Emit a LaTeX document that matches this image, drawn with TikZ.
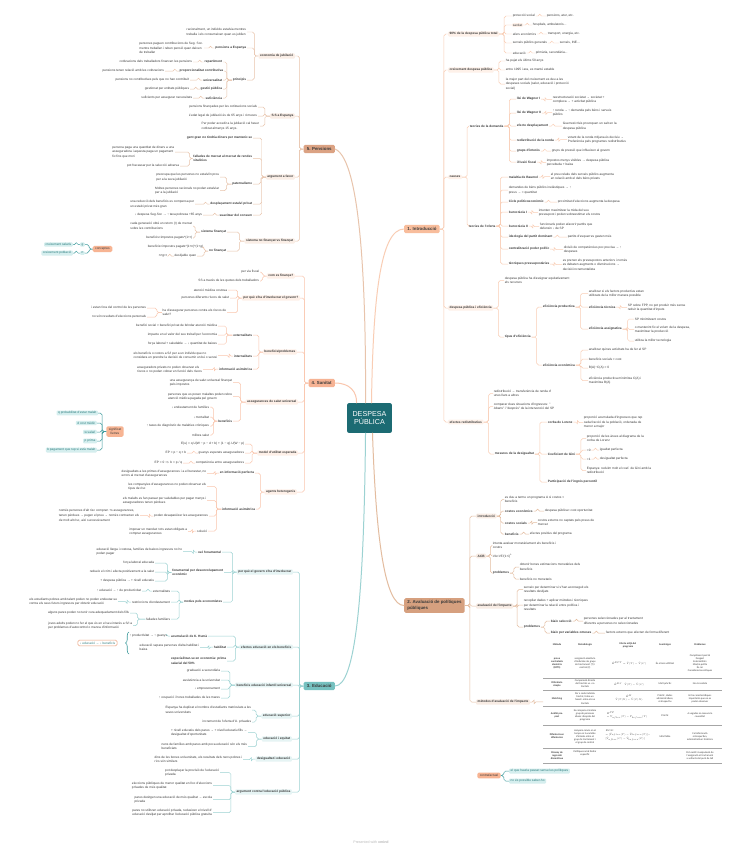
\documentclass[tikz,border=0pt]{standalone}
\usepackage{graphicx}
\usepackage{fontspec}
\setmainfont{Liberation Sans}
\newfontfamily\tabfont{Carlito}
\usetikzlibrary{decorations.pathreplacing}
\definecolor{txt}{HTML}{3A3A3A}
\definecolor{cen}{HTML}{1C6B73}
\definecolor{pl}{HTML}{E8C4AC}\definecolor{pf}{HTML}{DBA283}\definecolor{ph}{HTML}{FAEEE6}
\definecolor{sl}{HTML}{FAC6AD}\definecolor{sf}{HTML}{F6B394}\definecolor{sh}{HTML}{FEF0E8}
\definecolor{el}{HTML}{9CD2D2}\definecolor{ef}{HTML}{76C1C0}\definecolor{eh}{HTML}{E6F4F4}
\definecolor{il}{HTML}{F9CDB4}\definecolor{iff}{HTML}{F8BD9C}\definecolor{ih}{HTML}{FEF1E9}
\definecolor{al}{HTML}{E3BC9F}\definecolor{af}{HTML}{D6A07F}\definecolor{ah}{HTML}{F8ECE4}
\definecolor{tdk}{HTML}{3C9A9C}\definecolor{tfill}{HTML}{D5EEEE}\definecolor{ttxt}{HTML}{2E7D7F}
\definecolor{ofill}{HTML}{F7B493}\definecolor{oline}{HTML}{EBA07C}
\newcommand\mmfs{\fontsize{3.2}{4.6}\selectfont}
\newcommand\mmfb{\fontsize{3.2}{4.6}\selectfont\bfseries}
\newcommand\mmfm{\fontsize{4.4}{5.4}\selectfont\bfseries}
\newcommand\mmft{\tabfont\fontsize{2.6}{3.1}\selectfont}
\newcommand\fml[1]{\scalebox{0.48}{$#1$}}
\newcommand\lkL[3]{\foreach \pa/\ch in {#3}{\draw[ln=#1] (\pa.west) -- ++(-#2,0) |- (\ch.east);}}
\newcommand\lkR[3]{\foreach \pa/\ch in {#3}{\draw[ln=#1] (\pa.east) -- ++(#2,0) |- (\ch.west);}}
\tikzset{
 every node/.style={inner sep=0.7, text=txt, font=\mmfs, align=left},
 bd/.style={font=\mmfb},
 hl/.style={font=\mmfb, fill=#1, rounded corners=1, inner xsep=1.5, inner ysep=1.2},
 mbox/.style={font=\mmfm, fill=#1, rounded corners=1.5, inner xsep=3.2, inner ysep=2.6},
 oL/.style={anchor=east},
 oR/.style={anchor=west},
 obox/.style={fill=ofill, rounded corners=1.5, inner xsep=2.5, inner ysep=1.8},
 tbox/.style={fill=tfill, rounded corners=1, inner xsep=1.5, inner ysep=1, text=ttxt},
 ln/.style={draw=#1, line width=0.5, rounded corners=1.8},
 trunk/.style={draw=#1, line width=1, line cap=round},
 tc/.style={font=\mmft, align=center, inner sep=0},
 tcb/.style={font=\mmft\bfseries, align=center, inner sep=0},
}
\begin{document}
\begin{tikzpicture}[x=1bp,y=-1bp]
\useasboundingbox (0,0) rectangle (742,848);
\fill[white] (0,0) rectangle (742,848);

% ---------- centre ----------
\node[fill=cen, rounded corners=2, text=white, font=\fontsize{7.2}{8.6}\selectfont, align=center, minimum width=45, minimum height=30, inner sep=1] (C) at (369.5,418) {DESPESA\\PÚBLICA};

% ---------- main boxes ----------
\node[mbox=pf, oL] (P) at (335,149) {5. Pensions};
\node[mbox=sf, oL] (S) at (335,383) {4. Sanitat};
\node[mbox=ef, oL] (E) at (335,686) {3. Educació};
\node[mbox=iff, oR] (I) at (404,229) {1. Introducció};
\node[mbox=af, oR] (A) at (404,605.5) {2. Avaluació de polítiques\\públiques};

\draw[trunk=il] ([xshift=2]C.north) .. controls (373,300) and (380,229) .. (I.west);
\draw[trunk=pl] ([xshift=-4]C.north) .. controls (366,300) and (362,160) .. (P.east);
\draw[trunk=sl] ([xshift=-13]C.north) .. controls (357,392) and (350,383) .. (S.east);
\draw[trunk=el] ([xshift=-4]C.south) .. controls (364,600) and (355,686) .. (E.east);
\draw[trunk=al] ([xshift=3]C.south) .. controls (376,540) and (385,605.5) .. (A.west);

% ---------- 5. Pensions ----------
\node[hl=ph,oL] (P1) at (295,56) {economia de jubilació};
\node[oL] (P11) at (247,32) {racionalment, un individu estalvia mentres\\treballa i els consumeixen quan es jubilen};
\node[bd,oL] (P12) at (247,48) {pensions a Espanya};
\node[oL] (P121) at (204,48) {persones paguen contribucions de Seg. Soc.\\mentre treballen i reben pensió quan deixen\\de treballar};
\node[bd,oL] (P13) at (247,80) {principis};
\node[bd,oL] (P131) at (223,62) {repartiment};
\node[oL] (P1311) at (193,62) {cotitzacions dels treballadors financen les pensions};
\node[bd,oL] (P132) at (224,71) {proporcionalitat contributiva};
\node[oL] (P1321) at (165,71) {pensions tenen relació amb les cotitzacions};
\node[bd,oL] (P133) at (223,80) {universalitat};
\node[oL] (P1331) at (190,80) {pensions no contributives pels que no han contribuït};
\node[bd,oL] (P134) at (223,89) {gestió pública};
\node[oL] (P1341) at (190,89) {gestionat per entitats públiques};
\node[bd,oL] (P135) at (223,98) {suficiència};
\node[oL] (P1351) at (193,98) {suficients per assegurar necessitats};
\node[hl=ph,oL] (P2) at (295,116) {S.S a Espanya};
\node[oL] (P21) at (258,107) {pensions finançades per les cotitzacions socials};
\node[oL] (P22) at (258,116) {L'edat legal de jubilació és de 65 anys i 4 mesos};
\node[oL] (P23) at (260,126) {Per poder accedir a la jubilació cal haver\\cotitzat almenys 15 anys.};
\node[hl=ph,oL] (P3) at (295,177) {argument a favor};
\node[bd,oL] (P31) at (253,138) {gent gran no tindria diners per mantenir-se};
\node[bd,oL] (P32) at (253,158.5) {fallades de mercat al mercat de rendes\\vitalícies};
\node[oL] (P321) at (175,152) {persona paga una quantitat de diners a una\\asseguradora i aquesta paga un pagament\\fix fins que mori};
\node[oL] (P322) at (180,166) {pot fracassar per la selecció adversa};
\node[bd,oL] (P33) at (253,184) {paternalisme};
\node[oL] (P331) at (220,177) {preocupa que les persones no estalviïn prou\\per a la seva jubilació};
\node[oL] (P332) at (220,190.5) {Moltes persones racionals no poden estalviar\\per a la jubilació};
\node[bd,oL] (P34) at (253,204) {desplaçament estalvi privat};
\node[oL] (P341) at (195,204) {una reducció dels beneficis es compensa per\\un estalvi privat més gran};
\node[bd,oL] (P35) at (253,215) {suavitzar del consum};
\node[oL] (P351) at (203,215) {↓ despesa Seg.Soc → ↑ taxa pobresa +65 anys};
\node[hl=ph,oL] (P4) at (295,241) {sistema no finançat vs finançat};
\node[bd,oL] (P41) at (227,232) {sistema finançat};
\node[oL] (P411) at (193,226) {cada generació obté un retorn (r) de mercat\\sobre les contribucions};
\node[oL] (P412) at (193,238) {beneficis=impostos pagats*(1+r)};
\node[bd,oL] (P42) at (227,251) {no finançat};
\node[oL] (P421) at (204,247) {beneficis=impostos pagats*(1+n)*(1+g)};
\node[oL] (P422) at (197,256) {desitjable quan};
\node[oL] (P4221) at (168,256) {n+g>r};

\lkL{pl}{4}{P/P1,P/P2,P/P3,P/P4,P1/P11,P1/P12,P1/P13,P12/P121,P131/P1311,P132/P1321,P133/P1331,P134/P1341,P135/P1351,P3/P31,P3/P35,P3/P32,P3/P34,P42/P421,P42/P422,P422/P4221,P34/P341,P35/P351}
\lkL{pl}{5}{P13/P131,P13/P132,P13/P133,P13/P134,P13/P135,P2/P21,P2/P22,P2/P23,P3/P33,P33/P331,P33/P332,P4/P41,P4/P42,P41/P411,P41/P412}
\lkL{pl}{3}{P32/P321,P32/P322}

% ---------- conceptes ----------
\node[obox] (K) at (102.5,249) {conceptes};
\node[tbox,oL] (Kg) at (85,244.5) {g};
\node[tbox,oL] (Kn) at (85,253) {n};
\node[tbox,oL] (Kg1) at (73,244.5) {creixement salaris};
\node[tbox,oL] (Kn1) at (73,253) {creixement població};
\lkL{tdk}{3.5}{K/Kg,K/Kn,Kg/Kg1,Kn/Kn1}

% ---------- 4. Sanitat ----------
\node[hl=sh,oL] (S1) at (295,276) {com es finança?};
\node[oL] (S11) at (260,272) {per via fiscal};
\node[oL] (S12) at (260,281) {SS a través de les quotes dels treballadors};
\node[hl=sh,oL] (S2) at (300,298) {per què s'ha d'involucrar el govern?};
\node[oL] (S21) at (228,290) {atenció mèdica costosa};
\node[oL] (S22) at (230,298) {persones diferents riscos de salut};
\node[oL] (S23) at (227,312.5) {ha d'assegurar persones contra els riscos de\\salut?};
\node[oL] (S231) at (147,308) {i estan fora del control de les persones};
\node[oL] (S232) at (147,317) {no són resultats d'eleccions personals};
\node[hl=sh,oL] (S3) at (297,352) {beneficis/problemes};
\node[bd,oL] (S31) at (253,335) {externalitats};
\node[oL] (S311) at (218,326) {benefici social > benefici privat de brindar atenció mèdica};
\node[oL] (S312) at (218,335) {impacte en el valor del seu treball per l'economia};
\node[oL] (S313) at (218,344) {força laboral + saludable → ↓ quantitat de baixes};
\node[bd,oL] (S32) at (253,356) {internalitats};
\node[oL] (S321) at (218,355.5) {els beneficis o costos a S/I per a un individu que no\\considera en prendre la decisió de consumir un bé o servei};
\node[bd,oL] (S33) at (253,369) {informació asimètrica};
\node[oL] (S331) at (203,369.5) {asseguradors privats no poden observar els\\riscos o no poden cobrar en funció dels riscos};
\node[hl=sh,oL] (S4) at (298,402) {assegurances de salut universal};
\node[oL] (S41) at (233,382.5) {una assegurança de salut universal finançat\\pels impostos};
\node[oL] (S42) at (233,396.5) {persones que es posen malaltes poden rebre\\atenció mèdica pagada pel govern};
\node[bd,oL] (S43) at (233,421) {beneficis};
\node[oL] (S431) at (210,407) {↓ endeutament de famílies};
\node[oL] (S432) at (210,417) {↓ mortalitat};
\node[oL] (S433) at (210,426) {↑ taxes de diagnòstic de malalties cròniques};
\node[oL] (S434) at (210,435) {millora salut};
\node[hl=sh,oL] (S5) at (298,453) {model d'utilitat esperada};
\node[oL] (S51) at (245,444) {E(u) = q·U(W − p − d + b) + (1 − q)·U(W − p)};
\node[oL] (S52) at (245,453) {guanys esperats asseguradores};
\node[oL] (S521) at (187,453) {EP = p − q × b};
\node[oL] (S53) at (245,463) {competència entre asseguradores};
\node[oL] (S531) at (183,463) {EP = 0 \scalebox{0.65}{$\Rightarrow$} b = p / q};
\node[hl=sh,oL] (S6) at (297,492) {agents heterogenis};
\node[bd,oL] (S61) at (255,473) {en informació perfecta};
\node[oL] (S611) at (207,473.5) {desigualtats a les primes d'assegurances i a el benestar, no\\errors al mercat d'assegurances};
\node[bd,oL] (S62) at (256,509) {informació asimètrica};
\node[oL] (S621) at (207,486.5) {les companyies d'assegurances no poden observar els\\tipus de risc};
\node[oL] (S622) at (207,500.5) {els malalts es fan passar per saludables per pagar menys i\\asseguradores tenen pèrdues};
\node[oL] (S623) at (209,516) {poden desaparèixer les assegurances};
\node[oL] (S6231) at (140,515.5) {només persones d'alt risc compren +s assegurances,\\tenen pèrdues → pugen el preu → només contracten els\\de molt alt risc, així successivament};
\node[oL] (S624) at (208,531) {solució};
\node[oL] (S6241) at (188,531.5) {imposar un mandat: tots estan obligats a\\comprar assegurances};

\lkL{sl}{4}{S/S1,S/S2,S/S3,S/S4,S/S5,S/S6,S1/S11,S1/S12,S2/S21,S2/S22,S2/S23,S3/S31,S3/S32,S3/S33,S43/S431,S43/S432,S43/S433,S43/S434,S6/S61,S6/S62,S32/S321,S33/S331,S52/S521,S53/S531,S61/S611,S623/S6231,S624/S6241}
\lkL{sl}{5}{S23/S231,S23/S232,S4/S41,S4/S42,S4/S43,S5/S51,S5/S52,S5/S53,S62/S621,S62/S622,S62/S623,S62/S624}
\lkL{sl}{6}{S31/S311,S31/S312,S31/S313}

% ---------- significat lletres ----------
\node[obox, align=center] (SL) at (115,431.5) {significat\\lletres};
\node[tbox,oL] (SL1) at (98,413) {q probabilitat d'estar malalt};
\node[tbox,oL] (SL2) at (97,423) {d cost mèdic};
\node[tbox,oL] (SL3) at (97,432) {w salari};
\node[tbox,oL] (SL4) at (97,441) {p prima};
\node[tbox,oL] (SL5) at (97,450) {b pagament que rep si està malalt};
\lkL{tdk}{4}{SL/SL1,SL/SL2,SL/SL3,SL/SL4,SL/SL5}

% ---------- 3. Educació ----------
\node[hl=eh,oL] (E1) at (293,572) {per què el govern s'ha d'involucrar};
\node[bd,oL] (E11) at (222,552) {raó fonamental};
\node[oL] (E111) at (183,551.5) {educació llarga i costosa, famílies de baixos ingressos no ho\\poden pagar};
\node[bd,oL] (E12) at (224,572.5) {fonamental per desenvolupament\\econòmic};
\node[oL] (E121) at (155,563) {força laboral educada};
\node[oL] (E122) at (155,572) {redueix el crim i afecta positivament a la salut};
\node[oL] (E123) at (155,581) {+ despesa pública → + nivell educatiu};
\node[bd,oL] (E13) at (223,602) {motius pels economistes};
\node[oL] (E131) at (171,591) {externalitats};
\node[oL] (E1311) at (142,591) {↑ educació → ↑ de productivitat};
\node[oL] (E132) at (171,602) {restriccions d'endeutament};
\node[oL] (E1321) at (118,601.5) {els estudiants pobres amb talent poden no poden endeutar-se\\contra els seus futurs ingressos per obtenir educació};
\node[oL] (E133) at (171,619) {fallades familiars};
\node[oL] (E1331) at (130,613) {alguns pares poden no tenir cura adequadament dels fills};
\node[oL] (E1332) at (133,625.5) {joves adults poden no fer el que és en el seu interès a S/I a\\per problemes d'autocontrol o manca d'informació};
\node[hl=eh,oL] (E2) at (293,647) {efectes educació en els beneficis};
\node[bd,oL] (E21) at (208,636) {acumulació de K. Humà};
\node[oL] (E211) at (168,636) {↑ productivitat → ↑ guanys};
\node[bd,oL] (E22) at (227,647) {habilitat};
\node[oL] (E221) at (200,647.5) {educació separa persones d'alta habilitat i\\baixa};
\node[bd,oL] (E23) at (227,661) {especialitzar-se en economia: prima\\salarial del 50\%};
\node[hl=eh,oL] (E3) at (293,685) {beneficis educació infantil universal};
\node[oL] (E31) at (221,671) {graduació a secundària};
\node[oL] (E32) at (221,680) {assistència a la universitat};
\node[oL] (E33) at (221,689) {↓ empresonament};
\node[oL] (E34) at (221,698) {↑ ocupació i hores treballades de les mares};
\node[hl=eh,oL] (E4) at (292,716) {educació superior};
\node[oL] (E41) at (252,710) {Espanya ha duplicat el nombre d'estudiants matriculats a les\\seves universitats};
\node[oL] (E42) at (252,722) {increment de l'oferta d'U. privades};
\node[hl=eh,oL] (E5) at (292,739) {educació i equitat};
\node[oL] (E51) at (248,732.5) {+ nivell educatiu dels pares → + nivell educatiu fills →\\desigualtat d'oportunitats};
\node[oL] (E52) at (248,746.5) {nens de famílies amb pares amb poca educació són els més\\beneficiats};
\node[hl=eh,oL] (E6) at (292,759) {desigualtat i educació};
\node[oL] (E61) at (243,759.5) {dins de les bones universitats, els resultats dels nens pobres i\\rics són similars};
\node[hl=eh,oL] (E7) at (292,792) {argument contra l'educació pública};
\node[oL] (E71) at (220,772.5) {pot desplaçar la provisió de l'educació\\privada};
\node[oL] (E72) at (213,785.5) {eleccions públiques de menor qualitat en lloc d'eleccions\\privades de més qualitat};
\node[oL] (E73) at (213,799.5) {pares desitgen una educació de més qualitat → escola\\privada};
\node[oL] (E74) at (213,812.5) {pares no utilitzen educació privada, redueixen el nivell d'\\educació desitjat per aprofitar l'educació pública gratuïta};

\lkL{el}{4}{E/E1,E/E2,E/E3,E/E4,E/E5,E/E6,E/E7,E1/E11,E1/E12,E1/E13,E11/E111,E12/E121,E12/E122,E12/E123,E13/E131,E13/E132,E13/E133,E131/E1311,E132/E1321,E2/E21,E2/E22,E2/E23,E21/E211,E22/E221,E6/E61,E7/E71,E7/E72,E7/E73,E7/E74}
\lkL{el}{5}{E3/E31,E3/E32,E3/E33,E3/E34,E4/E41,E4/E42,E5/E51,E5/E52}
\lkL{el}{8}{E133/E1331,E133/E1332}

\node[draw=oline, fill=white, rounded corners=1.5, text=ttxt, inner xsep=2, inner ysep=1.6, line width=0.5] (EB) at (97.5,643) {↓ educació → ↓ beneficis};
\coordinate (EBa) at (129,654);
\coordinate (EBb) at (129,632);
\draw[tdk, line width=0.6, decorate, decoration={brace, amplitude=3.5}] (EBa) -- (EBb);

% ---------- 1. Introducció ----------
\node[hl=ih,oR] (I1) at (448,34) {90\% de la despesa pública total};
\node[oR] (I11) at (512,16) {protecció social};
\node[oR] (I111) at (546,16) {pensions, atur, etc.};
\node[oR, fill=ih, rounded corners=1] (I12) at (512,25) {sanitat};
\node[oR] (I121) at (532,25) {hospitals, ambulatoris...};
\node[oR] (I13) at (512,34) {afers econòmics};
\node[oR] (I131) at (547,34) {transport, energia, etc.};
\node[oR] (I14) at (512,43) {serveis públics generals};
\node[oR] (I141) at (559,43) {serveis, INE...};
\node[oR] (I15) at (512,53) {educació};
\node[oR] (I151) at (535,53) {primària, secundària...};
\node[hl=ih,oR] (I2) at (448,70) {creixement despesa pública};
\node[oR] (I21) at (505,61) {ha pujat els últims 50 anys};
\node[oR] (I22) at (505,70) {entre 1995 i ara, es manté estable};
\node[oR] (I23) at (505,84) {la major part del creixement es deu a les\\despeses socials (salut, educació i protecció\\social)};
\node[hl=ih,oR] (I3) at (448,177) {causes};
\node[bd,oR] (I31) at (469,126) {teories de la demanda};
\node[bd,oR] (I311) at (516,99) {llei de Wagner I};
\node[oR] (I3111) at (552,99.5) {reestructuració societat → societat +\\complexa → + activitat pública};
\node[bd,oR] (I312) at (516,113) {llei de Wagner II};
\node[oR] (I3121) at (552,112.5) {↑ renda → ↑ demanda pels béns i serveis\\públics};
\node[bd,oR] (I313) at (516,126) {efecte desplaçament};
\node[oR] (I3131) at (562,126) {Guerres/crisis provoquen un salt en la\\despesa pública};
\node[bd,oR] (I314) at (516,140) {redistribució de la renda};
\node[oR] (I3141) at (567,139.5) {votant de la renda mitjana és decisiu →\\Preferència pels programes redistributius};
\node[bd,oR] (I315) at (516,151) {grups d'interès};
\node[oR] (I3151) at (551,151) {grups de pressió que influeixen al govern};
\node[bd,oR] (I316) at (516,162) {il·lusió fiscal};
\node[oR] (I3161) at (546,162.5) {impostos menys visibles → despesa pública\\percebuda + baixa};
\node[bd,oR] (I32) at (468,226) {teories de l'oferta};
\node[bd,oR] (I321) at (508,177) {malaltia de Baumol};
\node[oR] (I3211) at (550,176.5) {el preu relatiu dels serveis públics augmenta\\en relació amb el dels béns privats};
\node[oR] (I322) at (508,190) {demandes de béns públics inelàstiques → ↑\\preus → = quantitat};
\node[bd,oR] (I323) at (508,202) {Cicle politicoeconòmic};
\node[oR] (I3231) at (557,202) {proximitat d'eleccions augmenta la despesa};
\node[bd,oR] (I324) at (508,212) {burocràcia I};
\node[oR] (I3241) at (538,212.5) {intenten maximitzar la mida del seu\\pressupost i poden sobreestimar els costos};
\node[bd,oR] (I325) at (508,226) {burocràcia II};
\node[oR] (I3251) at (539,226.5) {funcionaris poden afavorir partits que\\defensin ↓ de SP};
\node[bd,oR] (I326) at (508,237) {ideologia del partit dominant};
\node[oR] (I3261) at (567,237) {partits d'esquerres gasten més};
\node[bd,oR] (I327) at (508,249) {centralització poder polític};
\node[oR] (I3271) at (563,249.5) {divisió de competències poc precisa → ↑\\despeses};
\node[bd,oR] (I328) at (508,264) {tècniques pressupostàries};
\node[oR] (I3281) at (562,264.5) {es prenen els pressupostos anteriors i només\\es debaten augments o disminucions →\\decisió incrementalista};
\node[hl=ih,oR] (I4) at (448,308) {despesa pública i eficiència};
\node[oR] (I41) at (504,280.5) {despesa pública ha d'assignar equitativament\\els recursos};
\node[bd,oR] (I42) at (504,337) {tipus d'eficiència};
\node[bd,oR] (I421) at (542,307) {eficiència productiva};
\node[oR] (I4211) at (588,293.5) {analitzar si els factors productius estan\\utilitzats de la millor manera possible};
\node[bd,oR] (I4212) at (588,307) {eficiència tècnica};
\node[oR] (I42121) at (627,307.5) {SP sobre FPP, no pot produir més sense\\reduir la quantitat d'inputs};
\node[bd,oR] (I4213) at (588,329) {eficiència assignativa};
\node[oR] (I42131) at (634,319) {SP minimitzant costos};
\node[oR] (I42132) at (634,329.5) {o mantenint fix el volum de la despesa,\\maximitzar la producció};
\node[oR] (I42133) at (634,341) {utilitza la millor tecnologia};
\node[bd,oR] (I422) at (542,365) {eficiència econòmica};
\node[oR] (I4221) at (588,350) {analitzar quines activitats ha de fer el SP};
\node[oR] (I4222) at (588,359) {beneficis socials > cost};
\node[oR] (I4223) at (588,368) {B(A)−C(A) > 0};
\node[oR] (I4224) at (588,380.5) {eficiència productiva minimitza C(A) i\\maximitza B(A)};
\node[hl=ih,oR] (I5) at (448,422) {efectes redistributius};
\node[oR] (I51) at (493,393.5) {redistribució → transferència de renda d'\\unes llars a altres};
\node[oR] (I52) at (493,406.5) {comparar dues situacions d'ingressos: "\\Abans" i "després" de la intervenció del SP};
\node[bd,oR] (I53) at (494,454) {mesures de la desigualtat};
\node[bd,oR] (I531) at (547,422) {corba de Lorenz};
\node[oR] (I5311) at (583,422.5) {proporció acumulada d'ingressos que rep\\cada fracció de la població, ordenada de\\menor a major};
\node[bd,oR] (I532) at (547,454) {Coeficient de Gini};
\node[oR] (I5321) at (586,438.5) {proporció de les àrees al diagrama de la\\corba de Lorenz};
\node[oR] (I5322) at (586,450) {=0};
\node[oR] (I53221) at (599,450) {igualtat perfecta};
\node[oR] (I5323) at (586,459) {=1};
\node[oR] (I53231) at (599,459) {desigualtat perfecta};
\node[oR] (I5324) at (586,470.5) {Espanya: reduïm molt el coef. de Gini amb la\\redistribució};
\node[bd,oR] (I533) at (547,482) {Participació de l'ingrés percentil};

\lkR{il}{4}{I/I1,I/I2,I/I3,I/I4,I/I5,I11/I111,I12/I121,I13/I131,I14/I141,I15/I151,I311/I3111,I312/I3121,I313/I3131,I314/I3141,I315/I3151,I316/I3161,I32/I321,I32/I322,I32/I323,I32/I324,I32/I325,I32/I326,I32/I327,I32/I328,I321/I3211,I323/I3231,I324/I3241,I325/I3251,I326/I3261,I327/I3271,I328/I3281,I4212/I42121,I531/I5311,I5322/I53221,I5323/I53231}
\lkR{il}{5}{I1/I11,I1/I12,I1/I13,I1/I14,I1/I15,I2/I21,I2/I22,I2/I23,I3/I31,I3/I32,I31/I311,I31/I312,I31/I313,I31/I314,I31/I315,I31/I316,I4/I41,I4/I42,I42/I421,I42/I422,I421/I4211,I421/I4212,I421/I4213,I4213/I42131,I4213/I42132,I4213/I42133,I422/I4221,I422/I4222,I422/I4223,I422/I4224,I5/I51,I5/I52,I5/I53,I53/I531,I53/I532,I53/I533,I532/I5321,I532/I5322,I532/I5323,I532/I5324}

% ---------- 2. Avaluació ----------
\node[hl=ah,oR] (A1) at (476,516) {introducció};
\node[oR] (A11) at (504,499.5) {es duu a terme un programa A si costos <\\beneficis};
\node[bd,oR] (A12) at (504,511) {costos econòmics};
\node[oR] (A121) at (544,511) {despesa pública= cost oportunitat};
\node[bd,oR] (A13) at (504,523) {costos socials};
\node[oR] (A131) at (537,522.5) {costos externs no captats pels preus de\\mercat};
\node[bd,oR] (A14) at (504,534) {beneficis};
\node[oR] (A141) at (529,534) {efectes positius del programa};
\node[hl=ah,oR] (A2) at (476,556) {ACB};
\node[oR] (A21) at (492,545.5) {intenta avaluar monetàriament els beneficis i\\costos};
\node[oR] (A22) at (492,556) {VA=VF/(1+i)\textsuperscript{n}};
\node[bd,oR] (A23) at (492,573) {problemes};
\node[oR] (A231) at (519,567) {obtenir bones estimacions monetàries dels\\beneficis};
\node[oR] (A232) at (519,579) {beneficis no monetaris};
\node[hl=ah,oR] (A3) at (476,606) {avaluació de l'impacte};
\node[oR] (A31) at (523,589.5) {serveix per determinar si s'han aconseguit els\\resultats desitjats};
\node[oR] (A32) at (523,605) {recopilar dades + aplicar mètodes i tècniques\\per determinar la relació entre política i\\resultats};
\node[bd,oR] (A33) at (523,627) {problemes};
\node[bd,oR] (A331) at (550,621) {biaix selecció};
\node[oR] (A3311) at (583,621) {persones seleccionades per al tractament\\diferents a persones no seleccionades};
\node[bd,oR] (A332) at (550,633) {biaix per variables omeses};
\node[oR] (A3321) at (605,633) {factors externs que afecten de forma diferent};
\node[hl=ah,oR] (A4) at (476,702) {mètodes d'avaluació de l'impacte};
\node[minimum width=180, minimum height=126, anchor=north west, inner sep=0] (TB) at (543,639) {};

\lkR{al}{4}{A1/A11,A1/A12,A1/A13,A1/A14,A12/A121,A13/A131,A14/A141,A2/A21,A2/A22,A2/A23,A23/A231,A23/A232,A3/A31,A3/A32,A3/A33,A33/A331,A33/A332,A331/A3311,A332/A3321,A4/TB}
\lkR{al}{5}{A/A1,A/A2,A/A3,A/A4}

% table
\foreach \yy in {678,690.5,706.5,725,748,763} \draw[line width=0.35, draw=gray!70] (543,\yy) -- (722,\yy);
\node[tcb] (TH1) at (557,645) {Mètode};
\node[tcb] (TH2) at (585,645) {Metodologia};
\node[tcb] (TH3) at (628,645) {Efecte mitjà del\\programa};
\node[tcb] (TH4) at (665,645) {Avantatges};
\node[tcb] (TH5) at (700,645) {Problemes};
\node[tcb] (T11) at (557,663.5) {prova\\controlada\\aleatòria\\(RCTS)};
\node[tc] (T12) at (585,663.5) {assignació aleatòria\\d'individus als grups\\de tractament (T) i\\control (C)};
\node[tc] (T13) at (629,663.5) {\fml{\hat{E}^{RCT}=\bar{Y}(T)-\bar{Y}(C)}};
\node[tc] (T14) at (665,663.5) {És el més utilitzat};
\node[tc] (T15) at (700,663.5) {Compliment parcial\\Desgast\\Externalitats\\Mostra petita\\És car\\Consideracions ètiques};
\node[tcb] (T21) at (557,684) {Diferència\\simple};
\node[tc] (T22) at (585,684) {Comparació directa\\del tractats vs. no\\tractats};
\node[tc] (T23) at (629,684) {\fml{\hat{E}^{DS}\qquad\bar{Y}(T)-\bar{Y}(C)}};
\node[tc] (T24) at (665,684) {Molt pràctic};
\node[tc] (T25) at (700,684) {No és realista};
\node[tcb] (T31) at (557,698.5) {Matching};
\node[tc] (T32) at (585,698.5) {Per a cada individu\\tractat, troba un\\`bessó' entre els no\\tractats};
\node[tc] (T33) at (629,698) {\fml{\hat{E}^{M}}\\\fml{\bar{Y}(T|X)-\bar{Y}(C|X)}};
\node[tc] (T34) at (665,698.5) {Pràctic, dades\\administratives,\\retrospectiu};
\node[tc] (T35) at (700,698.5) {Hi ha característiques\\importants que no es\\poden observar};
\node[tcb] (T41) at (557,715.5) {Anàlisi pre-\\post};
\node[tc] (T42) at (585,715.5) {Es compara el mateix\\grup de persones\\abans i després del\\programa};
\node[tc, align=left] (T43) at (627,715.5) {\fml{\hat{E}^{PP}}\\\fml{=\bar{Y}_{after}(T)-\bar{Y}_{before}(T)}};
\node[tc] (T44) at (665,715.5) {Pràctic};
\node[tc] (T45) at (700,715.5) {A vegades no mesura la\\causalitat};
\node[tcb] (T51) at (557,736.5) {Diferència en\\diferències};
\node[tc] (T52) at (585,736.5) {compara canvis en el\\temps en la variable\\d'interès entre el\\grup de tractament i\\el grup de control};
\node[tc, align=left] (T53) at (628,735) {\fml{\hat{E}^{DD}}\\\fml{=[\bar{Y}_{after}(T)-\bar{Y}_{before}(T)]-}\\\fml{[\bar{Y}_{after}(C)-\bar{Y}_{before}(C)]}};
\node[tc] (T54) at (665,736.5) {Més fiable};
\node[tc] (T55) at (700,736.5) {Cal informació\\retrospectiva,\\administrativa i històrica};
\node[tcb] (T61) at (557,755.5) {Disseny de\\regressió\\discontínua};
\node[tc] (T62) at (585,753) {Polítiques amb llindar\\específic};
\node[tc] (T65) at (700,755.5) {Pot existir manipulació de\\l'assignació al tractament\\a voltants del punt de tall};

% ---------- contrafactual ----------
\node[obox] (CF) at (489,775.5) {contrafactual};
\node[tbox,oR] (CF1) at (509,771) {el que hauria passat sense les polítiques};
\node[tbox,oR] (CF2) at (509,781) {no és possible saber-ho};
\lkR{tdk}{3}{CF/CF1,CF/CF2}

% footer
\node[text=gray!55, font=\fontsize{3.6}{4}\selectfont] (FT) at (371,842) {Presented with \textbf{xmind}};
\end{tikzpicture}
\end{document}
